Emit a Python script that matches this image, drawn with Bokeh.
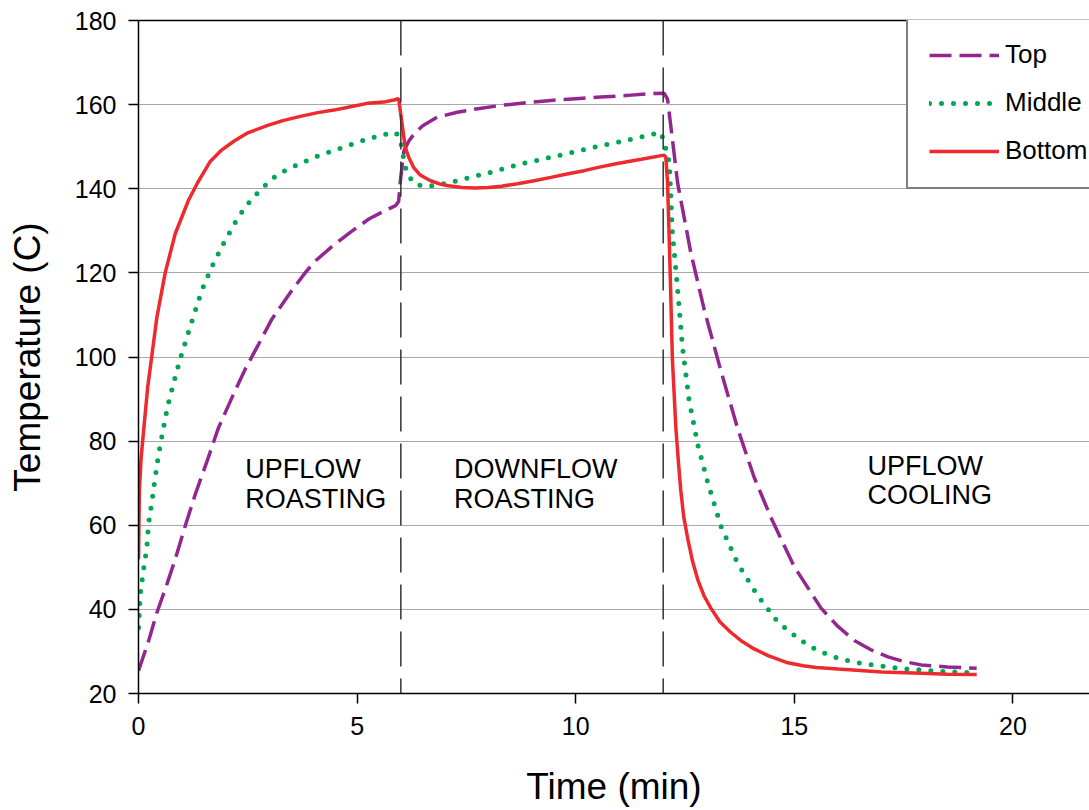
from bokeh.plotting import figure
from bokeh.models import Range1d, FixedTicker, LinearAxis, Span, Label, Legend, LegendItem
from bokeh.embed import file_html
from bokeh.resources import INLINE

# ---------------- data ----------------
t_top = [0, 0.23, 0.42, 0.65, 0.84, 1.07, 1.30, 1.57, 1.83, 2.14, 2.44, 2.75, 3.05, 3.47,
         3.81, 4.04, 4.43, 4.85, 5.27, 5.6, 5.88, 5.95, 5.99, 6.07, 6.18, 6.30, 6.5, 6.83,
         7.29, 7.8, 8.28, 8.9, 9.43, 10.0, 10.57, 11.2, 11.72, 12.02, 12.1, 12.33, 12.63,
         12.94, 13.32, 13.70, 14.08, 14.47, 15.0, 15.61, 15.99, 16.37, 16.75, 17.14, 17.5,
         17.9, 18.5, 19.17]
temp_top = [25.4, 32.5, 39.2, 46, 51.9, 59.9, 67.4, 75.3, 83.2, 90.4, 97.1, 103.1, 109, 115.3,
            120.0, 122.8, 126.3, 129.7, 132.8, 134.6, 136, 137, 142, 149, 151.3, 153, 155, 157,
            158.2, 159.1, 159.8, 160.5, 161, 161.4, 161.8, 162.2, 162.6, 162.7, 161.3, 141.4, 124.9,
            111.2, 96.7, 83.1, 71.4, 61.7, 50.1, 40.3, 36.0, 32.6, 30.4, 28.7, 27.6,
            26.8, 26.3, 26]

t_mid = [0, 0.04, 0.11, 0.19, 0.23, 0.31, 0.38, 0.46, 0.56, 0.66, 0.80, 0.94, 1.11, 1.28,
         1.45, 1.68, 1.95, 2.25, 2.44, 2.63, 2.9, 3.17, 3.45, 3.70, 4.1, 4.5, 5.08, 5.34, 5.61,
         5.88, 5.99, 6.03, 6.08, 6.14, 6.33, 6.6, 6.87, 7.14, 7.5, 7.9, 8.3, 8.67, 9.05, 9.43,
         9.9, 10.34, 10.9, 11.41, 11.95, 12.05, 12.14, 12.21, 12.33, 12.44, 12.59, 12.79, 13.01,
         13.32, 13.70, 14.16, 14.62, 15.15, 15.5, 15.91, 16.3, 16.76, 17.59, 18.3, 18.95]
temp_mid = [35.7, 43.6, 49.1, 54.7, 60.3, 65.8, 71.3, 76.9, 82.5, 88, 93.7, 99.1, 104.8, 110.4,
            115.9, 121.5, 127.1, 132.7, 135.6, 138, 140.8, 143.3, 144.8, 146, 147.8, 149.2, 151.3,
            152.1, 152.9, 153.4, 151.9, 149.1, 146.3, 143.5, 141, 140.5, 141, 141.5, 142.5, 143.5,
            144.6, 145.7, 146.6, 147.5, 148.6, 149.7, 150.9, 152.1, 153.4, 150, 146.2, 129.7, 116.1,
            102.5, 89.9, 79.2, 70.5, 59.8, 51, 43.3, 37, 32.6, 30.4, 28.7, 27.6, 26.8, 25.8, 25.3, 25]

t_bot = [0, 0.02, 0.06, 0.11, 0.21, 0.31, 0.42, 0.61, 0.84, 1.14, 1.34, 1.64, 1.9, 2.18, 2.5,
         2.94, 3.3, 3.7, 4.1, 4.47, 4.85, 5.23, 5.61, 5.84, 5.95, 6.10, 6.18, 6.29, 6.45, 6.68,
         6.9, 7.09, 7.4, 7.7, 8.0, 8.3, 8.67, 9.05, 9.43, 9.8, 10.19, 10.57, 10.95, 11.5, 12.02,
         12.06, 12.10, 12.16, 12.21, 12.29, 12.35, 12.40, 12.47, 12.56, 12.67, 12.79, 12.93,
         13.09, 13.3, 13.55, 13.8, 14.08, 14.4, 14.85, 15.2, 15.5, 16.0, 17.0, 17.9, 18.5, 19.17]
temp_bot = [51.9, 68.2, 76, 81.7, 92.8, 100.7, 109.4, 120, 129.3, 137.2, 141.2, 146.5, 149.2,
            151.3, 153.3, 155, 156.2, 157.2, 158.1, 158.7, 159.5, 160.3, 160.6, 161.1, 161.4,
            149.9, 147.5, 145.1, 143.2, 141.9, 141.1, 140.7, 140.3, 140.2, 140.3, 140.6, 141.2,
            141.9, 142.7, 143.5, 144.3, 145.2, 146, 147, 148, 147.5, 141.4, 120, 99.6, 83.1,
            74.8, 68.5, 62.0, 56.9, 51.5, 47.1, 43.3, 40.3, 37.0, 34.5, 32.4, 30.6, 29.0, 27.3,
            26.6, 26.2, 25.8, 25.1, 24.8, 24.6, 24.5]

series_names = ["Top", "Middle", "Bottom"]
phase_bounds = [6, 12]
phase_texts = [("UPFLOW", "ROASTING"), ("DOWNFLOW", "ROASTING"), ("UPFLOW", "COOLING")]
x_ticks = [0, 5, 10, 15, 20]
y_ticks = [20, 40, 60, 80, 100, 120, 140, 160, 180]

FONT = "Liberation Sans"

# ---------------- figure ----------------
p = figure(width=1089, height=810,
           x_range=Range1d(0, 21.75), y_range=Range1d(20, 180),
           output_backend="svg", toolbar_location=None,
           min_border_left=138, min_border_right=0, min_border_top=20, min_border_bottom=117)
p.outline_line_color = None
p.background_fill_color = "white"
p.border_fill_color = "white"

# axes
for ax in (p.xaxis[0], p.yaxis[0]):
    ax.axis_line_color = "black"
    ax.axis_line_width = 1.5
    ax.major_tick_line_color = "black"
    ax.major_tick_line_width = 1.5
    ax.major_tick_out = 10
    ax.major_tick_in = 0
    ax.minor_tick_out = 0
    ax.minor_tick_in = 0
    ax.major_label_text_font = FONT
    ax.major_label_text_font_size = "25px"
    ax.major_label_text_color = "black"
    ax.axis_label_text_font = FONT
    ax.axis_label_text_font_size = "37px"
    ax.axis_label_text_font_style = "normal"
    ax.axis_label_text_color = "black"

p.xaxis.ticker = FixedTicker(ticks=x_ticks)
p.yaxis.ticker = FixedTicker(ticks=y_ticks)
p.xaxis.axis_label = "Time (min)"
p.yaxis.axis_label = "Temperature (C)"
p.xaxis.major_label_standoff = 13
p.xaxis.axis_label_standoff = 28
p.yaxis.major_label_standoff = 12
p.yaxis.axis_label_standoff = 24

# top border as an axis with no ticks/labels
top_axis = LinearAxis(ticker=FixedTicker(ticks=[]), axis_line_color="black", axis_line_width=1.5,
                      major_tick_out=0, major_tick_in=0, minor_tick_out=0, minor_tick_in=0,
                      major_label_text_font_size="0px", major_label_standoff=0)
p.add_layout(top_axis, "above")

# grid
p.xgrid.visible = False
p.ygrid.ticker = FixedTicker(ticks=y_ticks)
p.ygrid.grid_line_color = "#a8a8a8"
p.ygrid.grid_line_width = 1

# phase boundaries
for b in phase_bounds:
    p.add_layout(Span(location=b, dimension="height", line_color="#333333",
                      line_width=1.5, line_dash="35 12"))

# series
r_top = p.line(t_top, temp_top, line_color="#93278f", line_width=3.5, line_dash="22 8")
r_mid = p.line(t_mid, temp_mid, line_color="#00a651", line_width=5, line_dash="0 12",
               line_cap="round")
r_bot = p.line(t_bot, temp_bot, line_color="#ee2a2e", line_width=3.5)

# phase labels (two lines each)
label_pos = [(2.44, 73.26, 66.3), (7.215, 73.26, 66.3), (16.67, 74.16, 67.08)]
for (l1, l2), (lx, y1, y2) in zip(phase_texts, label_pos):
    for txt, ly in ((l1, y1), (l2, y2)):
        p.add_layout(Label(x=lx, y=ly, text=txt, text_font=FONT, text_font_size="27px",
                           text_color="black", text_baseline="middle", text_align="left"))

# legend
legend = Legend(items=[LegendItem(label=n, renderers=[r]) for n, r in
                       zip(series_names, [r_top, r_mid, r_bot])],
                location=(768, 504), orientation="vertical",
                border_line_color="black", border_line_width=2,
                background_fill_color="white", background_fill_alpha=1,
                padding=21, spacing=17, margin=0,
                glyph_width=70, glyph_height=30, label_height=30, label_standoff=6,
                label_text_font=FONT, label_text_font_size="26px", label_text_color="black")
p.add_layout(legend)

open("out.html", "w").write(file_html(p, INLINE))
